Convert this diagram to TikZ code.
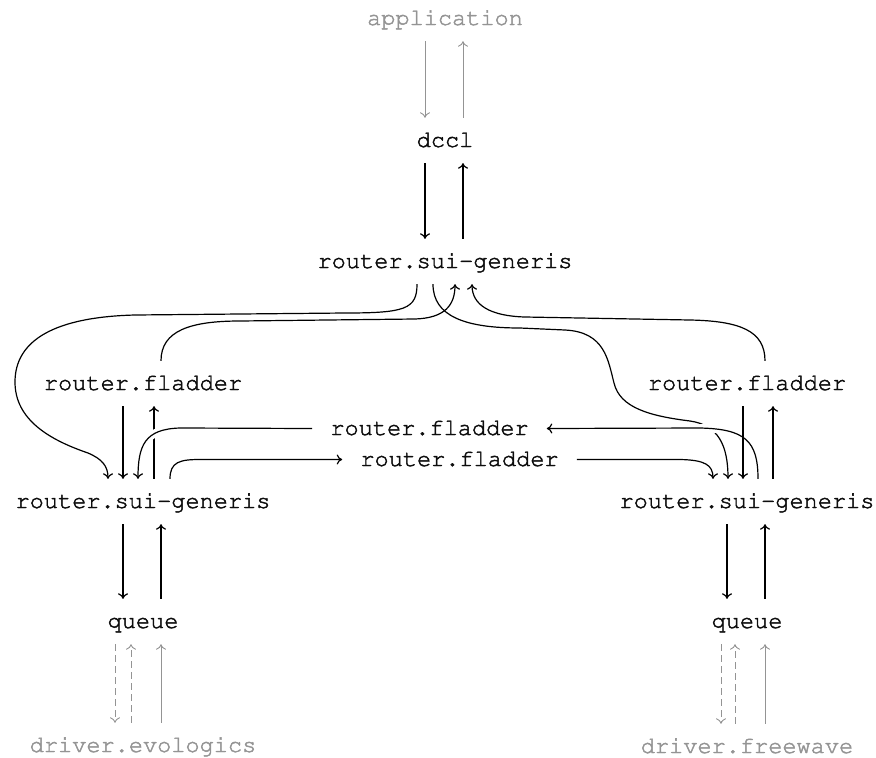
\documentclass[tikz,border=0pt]{standalone}
\usepackage[T1]{fontenc}
\usepackage{courier}
\usetikzlibrary{arrows.meta}
\definecolor{gry}{gray}{0.58}
\definecolor{txt}{gray}{0.05}
\newcommand{\hv}[1]{\special{pdf:literal direct 2 Tr 0.45 w}#1\special{pdf:literal direct 0 Tr}}
\begin{document}
\begin{tikzpicture}[x=1pt,y=-1pt,
  every node/.style={font=\fontsize{23.6pt}{28pt}\selectfont\ttfamily, inner xsep=18pt, inner ysep=11pt,
    text height=18pt, text depth=5pt, anchor=base, text=txt},
  ln/.style={line width=1.2pt, draw=black, -{To[length=5.5pt,width=10pt]}},
  gl/.style={line width=0.9pt, draw=gry, -{To[length=5.5pt,width=10pt]}},
  gd/.style={gl, dash pattern=on 7pt off 4pt},
  halo/.style={draw=white, line width=8pt}]
\useasboundingbox (0,0) rectangle (876,758);
% nodes
\node (app) [text=gry] at (445,25) {\hv{application}};
\node (dccl) at (445,147) {\hv{dccl}};
\node (rt) at (445,268) {\hv{router.sui-generis}};
\node (lfl) at (143,390) {\hv{router.fladder}};
\node (rfl) at (747,390) {\hv{router.fladder}};
\node (mu) at (429.5,435) {\hv{router.fladder}};
\node (ml) at (459.5,466) {\hv{router.fladder}};
\node (lsg) at (143,508) {\hv{router.sui-generis}};
\node (rsg) at (747,508) {\hv{router.sui-generis}};
\node (lq) at (143,628) {\hv{queue}};
\node (rq) at (747,628) {\hv{queue}};
\node (ldr) [text=gry] at (143,752) {\hv{driver.evologics}};
\node (rdr) [text=gry] at (747,753) {\hv{driver.freewave}};
% top column
\draw[gl] ([xshift=-20pt]app.south) -- ([xshift=-20pt]dccl.north);
\draw[gl] ([xshift=18pt]dccl.north) -- ([xshift=18pt]app.south);
\draw[ln] ([xshift=-20pt]dccl.south) -- ([xshift=-20pt]rt.north);
\draw[ln] ([xshift=18pt]rt.north) -- ([xshift=18pt]dccl.south);
% top router to left router
\draw[ln] ([xshift=-28pt]rt.south) .. controls +(0,25) and (405,313) .. (345,313) -- (135,315)
  .. controls (55,317) and (15,340) .. (15,382) .. controls (15,420) and (50,440) .. (88,453)
  .. controls (102,459) and (108,466) .. ([xshift=-35pt]lsg.north);
% left fladder to top router
\draw[ln] ([xshift=18pt]lfl.north) .. controls +(0,-30) and (190,321) .. (240,321) -- (415,319)
  .. controls (445,318) and (455,305) .. ([xshift=10pt]rt.south);
% top router to right router
\draw[ln] ([xshift=-12pt]rt.south) .. controls +(0,32) and (465,328) .. (520,328) -- (565,330)
  .. controls (605,332) and (608,360) .. (614,383) .. controls (620,408) and (650,416) .. (690,421)
  .. controls (718,425) and (728,445) .. ([xshift=-19pt]rsg.north);
% right fladder to top router
\draw[ln] ([xshift=18pt]rfl.north) .. controls +(0,-30) and (740,321) .. (690,320) -- (525,317)
  .. controls (490,316) and (472,305) .. ([xshift=27pt]rt.south);
% left column
\draw[ln] ([xshift=-20pt]lfl.south) -- ([xshift=-20pt]lsg.north);
\draw[ln] ([xshift=11pt]lsg.north) -- ([xshift=11pt]lfl.south);
\draw[ln] ([xshift=-20pt]lsg.south) -- ([xshift=-20pt]lq.north);
\draw[ln] ([xshift=18pt]lq.north) -- ([xshift=18pt]lsg.south);
\draw[gd] ([xshift=-28pt]lq.south) -- ([xshift=-28pt]ldr.north);
\draw[gd] ([xshift=-12pt]ldr.north) -- ([xshift=-12pt]lq.south);
\draw[gl] ([xshift=18pt]ldr.north) -- ([xshift=18pt]lq.south);
% right router to upper middle fladder
\path[halo] ([xshift=11pt]rsg.north) .. controls +(0,-38) and (745,429) .. (700,428) -- (mu.east);
\draw[ln] ([xshift=11pt]rsg.north) .. controls +(0,-38) and (745,429) .. (700,428) -- (mu.east);
% upper middle fladder to left router
\path[halo] (mu.west) -- (180,428) .. controls (145,429) and (138,445) .. ([xshift=-5pt]lsg.north);
\draw[ln] (mu.west) -- (180,428) .. controls (145,429) and (138,445) .. ([xshift=-5pt]lsg.north);
% left router to lower middle fladder
\draw[ln] ([xshift=27pt]lsg.north) .. controls +(0,-17) and (180,459.5) .. (200,459.5) -- (ml.west);
% lower middle fladder to right router
\draw[ln] (ml.east) -- (680,459.5) .. controls (705,460) and (713,465) .. ([xshift=-34pt]rsg.north);
% right column
\draw[ln] ([xshift=-4pt]rfl.south) -- ([xshift=-4pt]rsg.north);
\draw[ln] ([xshift=26pt]rsg.north) -- ([xshift=26pt]rfl.south);
\draw[ln] ([xshift=-20pt]rsg.south) -- ([xshift=-20pt]rq.north);
\draw[ln] ([xshift=18pt]rq.north) -- ([xshift=18pt]rsg.south);
\draw[gd] ([xshift=-26pt]rq.south) -- ([xshift=-26pt]rdr.north);
\draw[gd] ([xshift=-12pt]rdr.north) -- ([xshift=-12pt]rq.south);
\draw[gl] ([xshift=18pt]rdr.north) -- ([xshift=18pt]rq.south);
\end{tikzpicture}
\end{document}
